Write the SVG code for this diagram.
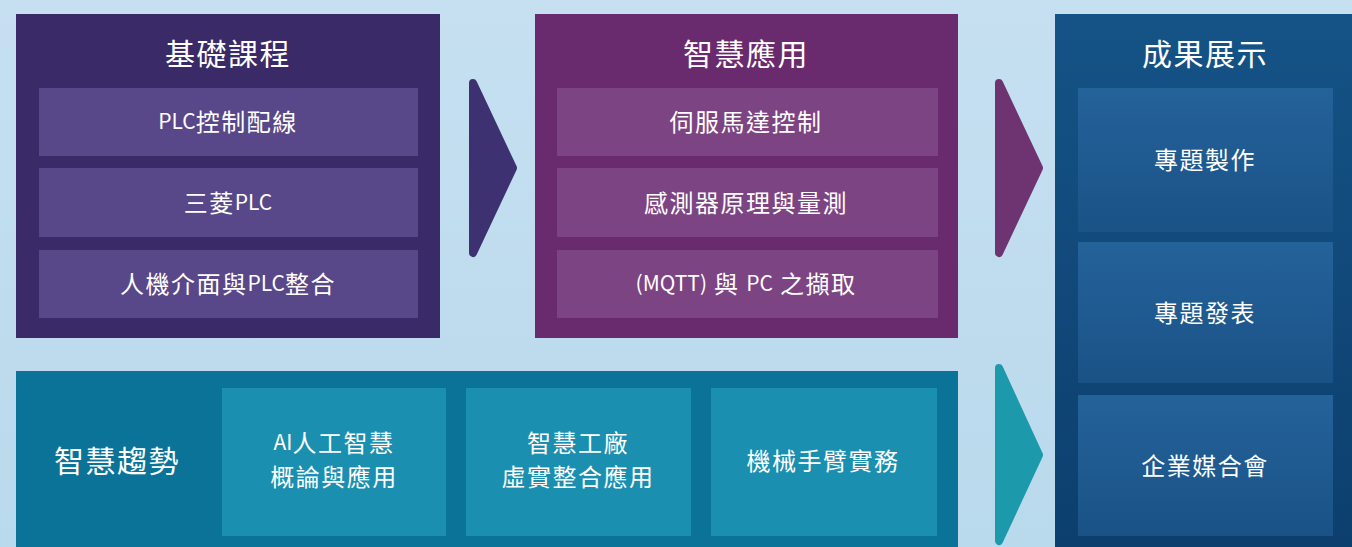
<svg xmlns="http://www.w3.org/2000/svg" width="1352" height="547" viewBox="0 0 1352 547">
<defs>
<linearGradient id="bg" x1="0" y1="0" x2="0" y2="1"><stop offset="0" stop-color="#c6e0f1"/><stop offset="1" stop-color="#b9d9ec"/></linearGradient>
<linearGradient id="blue" x1="0" y1="0" x2="0" y2="1"><stop offset="0" stop-color="#155386"/><stop offset="1" stop-color="#0c3f6e"/></linearGradient>
<linearGradient id="blueRow" x1="0" y1="0" x2="0" y2="1"><stop offset="0" stop-color="#24629a"/><stop offset="1" stop-color="#1a5286"/></linearGradient>
</defs>
<style>
text{font-family:"Noto Sans CJK TC","Noto Sans CJK SC",sans-serif;fill:#ffffff;text-anchor:middle;dominant-baseline:central}
.title{font-size:30px;font-weight:400;letter-spacing:1.5px}
.row{font-size:24px;font-weight:400;letter-spacing:1.5px}
.lat{letter-spacing:0px;font-size:21px}
.arrow{stroke-linejoin:round;stroke-width:8}
</style>
<rect x="0" y="0" width="1352" height="547" fill="url(#bg)"/>
<g id="node-basic">
<rect x="16" y="14" width="424" height="324" fill="#3a2a68"/>
<text class="title" x="228" y="52">基礎課程</text>
<rect x="39" y="88" width="379" height="68" fill="#594889"/>
<text class="row" x="228" y="120"><tspan class="lat">PLC</tspan>控制配線</text>
<rect x="39" y="168" width="379" height="69" fill="#594889"/>
<text class="row" x="228" y="201">三菱<tspan class="lat">PLC</tspan></text>
<rect x="39" y="250" width="379" height="68" fill="#594889"/>
<text class="row" x="228" y="282">人機介面與<tspan class="lat">PLC</tspan>整合</text>
</g>
<g id="node-smart-app">
<rect x="535" y="14" width="423" height="324" fill="#6a2b6e"/>
<text class="title" x="746" y="52">智慧應用</text>
<rect x="557" y="88" width="381" height="68" fill="#7d4483"/>
<text class="row" x="746" y="120">伺服馬達控制</text>
<rect x="557" y="168" width="381" height="69" fill="#7d4483"/>
<text class="row" x="746" y="201">感測器原理與量測</text>
<rect x="557" y="250" width="381" height="68" fill="#7d4483"/>
<text class="row" x="746" y="282"><tspan class="lat">(MQTT)</tspan> 與 <tspan class="lat">PC</tspan> 之擷取</text>
</g>
<g id="node-results">
<rect x="1055" y="14" width="297" height="533" fill="url(#blue)"/>
<text class="title" x="1205" y="52">成果展示</text>
<rect x="1078" y="88" width="255" height="144" fill="url(#blueRow)"/>
<text class="row" x="1205" y="158">專題製作</text>
<rect x="1078" y="242" width="255" height="141" fill="url(#blueRow)"/>
<text class="row" x="1205" y="311">專題發表</text>
<rect x="1078" y="395" width="255" height="141" fill="url(#blueRow)"/>
<text class="row" x="1205" y="464">企業媒合會</text>
</g>
<g id="node-trends">
<rect x="16" y="371" width="942" height="176" fill="#0b7397"/>
<text class="title" x="117" y="459">智慧趨勢</text>
<rect x="222" y="388" width="224" height="148" fill="#1a8fb0"/>
<text class="row" x="334" y="441"><tspan class="lat">AI</tspan>人工智慧</text>
<text class="row" x="334" y="475">概論與應用</text>
<rect x="466" y="388" width="225" height="148" fill="#1a8fb0"/>
<text class="row" x="578" y="441">智慧工廠</text>
<text class="row" x="578" y="475">虛實整合應用</text>
<rect x="711" y="388" width="226" height="148" fill="#1a8fb0"/>
<text class="row" x="823" y="459">機械手臂實務</text>
</g>
<g id="connectors">
<path class="arrow" d="M473,83 L513,168 L473,253 Z" fill="#3d3172" stroke="#3d3172"/>
<path class="arrow" d="M999,83 L1039,168 L999,253 Z" fill="#6e3472" stroke="#6e3472"/>
<path class="arrow" d="M999,368 L1039,455 L999,541 Z" fill="#1c99ab" stroke="#1c99ab"/>
</g>
</svg>
